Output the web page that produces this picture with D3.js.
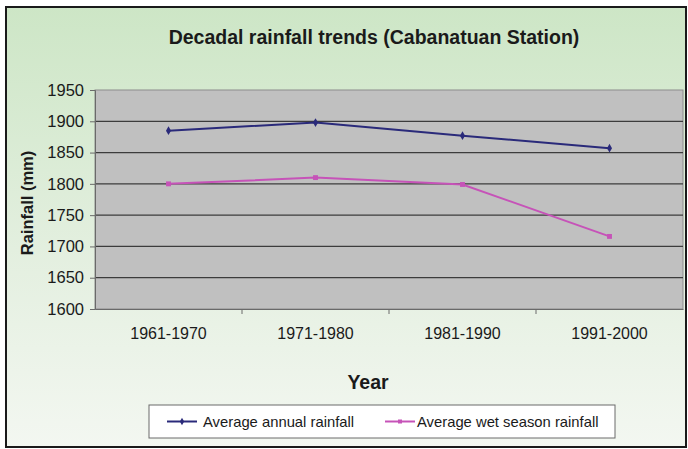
<!DOCTYPE html>
<html>
<head>
<meta charset="utf-8">
<script src="https://cdn.jsdelivr.net/npm/d3@7/dist/d3.min.js"></script>
<style>
  html, body { margin: 0; padding: 0; background: #fff; }
  svg { display: block; font-family: "Liberation Sans", Arial, sans-serif; }
</style>
</head>
<body>
<svg id="chart" width="688" height="449"></svg>
<script>
// Decadal rainfall at Cabanatuan Station
const decades = ["1961-1970", "1971-1980", "1981-1990", "1991-2000"];
const annualRainfall = [1885, 1898, 1877, 1857];
const wetSeasonRainfall = [1800, 1810, 1799, 1716];
const yTicks = [1600, 1650, 1700, 1750, 1800, 1850, 1900, 1950];
const seriesNames = ["Average annual rainfall", "Average wet season rainfall"];

const svg = d3.select("#chart");
const W = 688, H = 449;
const FONT = "'Liberation Sans', Arial, sans-serif";

const defs = svg.append("defs");
const bg = defs.append("linearGradient").attr("id", "bgGrad")
  .attr("x1", 0).attr("y1", 0).attr("x2", 0).attr("y2", 1);
bg.append("stop").attr("offset", "0%").attr("stop-color", "#cde6c6");
bg.append("stop").attr("offset", "55%").attr("stop-color", "#e3efdf");
bg.append("stop").attr("offset", "100%").attr("stop-color", "#f3f7f1");

// outer frame
svg.append("rect").attr("x", 0).attr("y", 0).attr("width", W).attr("height", H).attr("fill", "#ffffff");
svg.append("rect").attr("x", 6).attr("y", 7).attr("width", 680).attr("height", 440)
  .attr("fill", "url(#bgGrad)").attr("stroke", "#1a1a1a").attr("stroke-width", 2);

const plot = { left: 95, right: 683, top: 90, bottom: 309 };

const x = d3.scaleBand().domain(decades).range([plot.left, plot.right]);
const y = d3.scaleLinear().domain([1600, 1950]).range([plot.bottom, plot.top]);

// plot area
svg.append("rect")
  .attr("x", plot.left).attr("y", plot.top)
  .attr("width", plot.right - plot.left).attr("height", plot.bottom - plot.top)
  .attr("fill", "#c0c0c0").attr("stroke", "#8c8c8c").attr("stroke-width", 1);

// horizontal gridlines
svg.append("g").selectAll("line").data(yTicks.slice(1, -1)).join("line")
  .attr("x1", plot.left).attr("x2", plot.right)
  .attr("y1", d => y(d)).attr("y2", d => y(d))
  .attr("stroke", "#3c3c3c").attr("stroke-width", 1.2);

// y axis
const yAxis = svg.append("g").attr("transform", `translate(${plot.left},0)`)
  .call(d3.axisLeft(y).tickValues(yTicks).tickSize(5).tickPadding(6).tickFormat(d3.format("d")));
yAxis.select(".domain").attr("stroke", "#6a6a6a");
yAxis.selectAll(".tick line").attr("stroke", "#6a6a6a");
yAxis.selectAll("text").attr("font-size", 16.5).attr("fill", "#1a1a1a")
  .attr("font-family", FONT);

// x axis: ticks at category boundaries
const xAxis = svg.append("g").attr("transform", `translate(0,${plot.bottom})`)
  .call(d3.axisBottom(x).tickSize(0).tickPadding(19));
xAxis.select(".domain").attr("stroke", "#6a6a6a");
xAxis.selectAll("text").attr("font-size", 16).attr("fill", "#1a1a1a")
  .attr("font-family", FONT);
svg.append("g").selectAll("line").data(decades.slice(1)).join("line")
  .attr("x1", d => x(d)).attr("x2", d => x(d))
  .attr("y1", plot.bottom).attr("y2", plot.bottom + 5)
  .attr("stroke", "#6a6a6a");

const cx = d => x(d) + x.bandwidth() / 2;
const line = d3.line().x(d => cx(d.k)).y(d => y(d.v));

const series = [
  { name: seriesNames[0], values: annualRainfall, color: "#2a2a7a", marker: "diamond" },
  { name: seriesNames[1], values: wetSeasonRainfall, color: "#c653b8", marker: "square" }
];

series.forEach(s => {
  const pts = s.values.map((v, i) => ({ k: decades[i], v }));
  svg.append("path").datum(pts).attr("d", line)
    .attr("fill", "none").attr("stroke", s.color).attr("stroke-width", 2);
  const sym = s.marker === "diamond" ? d3.symbolDiamond : d3.symbolSquare;
  svg.append("g").selectAll("path").data(pts).join("path")
    .attr("transform", d => `translate(${cx(d.k)},${y(d.v)})`)
    .attr("d", d3.symbol(sym).size(s.marker === "diamond" ? 22 : 24))
    .attr("fill", s.color);
});

// title
svg.append("text").attr("x", 374).attr("y", 44).attr("text-anchor", "middle")
  .attr("font-size", 19.5).attr("font-weight", "bold").attr("fill", "#1a1a1a")
  .text("Decadal rainfall trends (Cabanatuan Station)");

// axis titles
svg.append("text").attr("transform", "translate(33,203) rotate(-90)")
  .attr("text-anchor", "middle").attr("font-size", 16.5).attr("font-weight", "bold")
  .attr("fill", "#1a1a1a").text("Rainfall (mm)");
svg.append("text").attr("x", 368).attr("y", 389).attr("text-anchor", "middle")
  .attr("font-size", 19.5).attr("font-weight", "bold").attr("fill", "#1a1a1a").text("Year");

// legend
const lg = svg.append("g");
lg.append("rect").attr("x", 149).attr("y", 405).attr("width", 466).attr("height", 33)
  .attr("fill", "#ffffff").attr("stroke", "#6a6a6a").attr("stroke-width", 1);
const legendItems = [
  { s: series[0], x0: 167, tx: 203 },
  { s: series[1], x0: 385, tx: 417 }
];
legendItems.forEach(it => {
  lg.append("line").attr("x1", it.x0).attr("x2", it.x0 + 30).attr("y1", 421.5).attr("y2", 421.5)
    .attr("stroke", it.s.color).attr("stroke-width", 2);
  lg.append("path").attr("transform", `translate(${it.x0 + 15},421.5)`)
    .attr("d", d3.symbol(it.s.marker === "diamond" ? d3.symbolDiamond : d3.symbolSquare).size(16))
    .attr("fill", it.s.color);
  lg.append("text").attr("x", it.tx).attr("y", 427).attr("font-size", 14.8)
    .attr("fill", "#1a1a1a").attr("font-family", FONT).text(it.s.name);
});
</script>
</body>
</html>
